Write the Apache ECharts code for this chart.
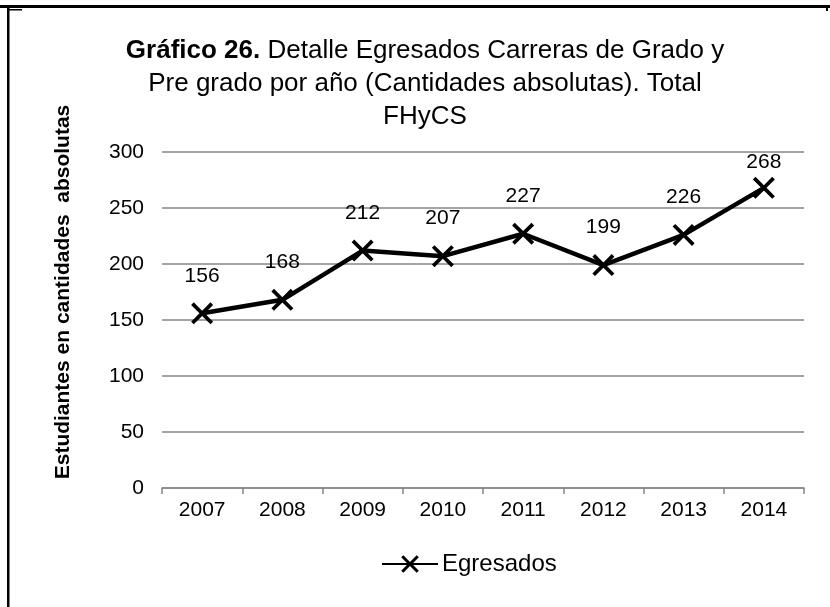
<!DOCTYPE html>
<html lang="es">
<head>
    <meta charset="UTF-8">
    <title>Gráfico 26</title>
    <style>
        body {
            margin: 0;
            background-color: #fff;
        }

        #chart {
            width: 830px;
            height: 607px;
        }
    </style>
</head>
<body>

    <div id="chart"></div>

    <script src="https://cdn.jsdelivr.net/npm/echarts@6/dist/echarts.min.js"></script>
    <script>

        // años
        const years = ['2007', '2008', '2009', '2010', '2011', '2012', '2013', '2014'];
        // egresados por año
        const egresados = [156, 168, 212, 207, 227, 199, 226, 268];
        // eje y
        const yTicks = [0, 50, 100, 150, 200, 250, 300];

        const font = 'Arial, "Liberation Sans", sans-serif';
        const crossSymbol = 'path://M0,1.2L1.2,0L5,3.8L8.8,0L10,1.2L6.2,5L10,8.8L8.8,10L5,6.2L1.2,10L0,8.8L3.8,5Z';
        const yMax = yTicks[yTicks.length - 1];

        // la etiqueta más alta queda dentro del área del gráfico (como en Excel)
        const seriesData = egresados.map(v => (yMax - v < 40 ? { value: v, label: { distance: 4 } } : v));

        const chart = echarts.init(document.getElementById('chart'));

        const option = {
            animation: false,
            title: {
                text: '{b|Gráfico 26.} Detalle Egresados Carreras de Grado y\nPre grado por año (Cantidades absolutas). Total\nFHyCS',
                left: 420,
                top: 29,
                textAlign: 'center',
                textStyle: {
                    fontFamily: font,
                    fontSize: 26,
                    fontWeight: 'normal',
                    color: '#000',
                    lineHeight: 33,
                    align: 'center',
                    rich: {
                        b: { fontFamily: font, fontSize: 26, fontWeight: 'bold', color: '#000', lineHeight: 33 }
                    }
                }
            },
            legend: {
                data: ['Egresados'],
                left: 376,
                top: 547,
                itemWidth: 56,
                itemHeight: 22,
                itemGap: 4,
                textStyle: { fontFamily: font, fontSize: 24, color: '#000', padding: [0, 0, 0, -1] }
            },
            grid: {
                left: 162,
                right: 26,
                top: 152,
                bottom: 119
            },
            xAxis: {
                type: 'category',
                data: years,
                axisLine: { lineStyle: { color: '#868686', width: 1.5 } },
                axisTick: { show: true, length: 6, lineStyle: { color: '#868686', width: 1.5 } },
                axisLabel: { fontFamily: font, fontSize: 21, color: '#000', margin: 12 }
            },
            yAxis: {
                type: 'value',
                min: yTicks[0],
                max: yMax,
                interval: 50,
                name: 'Estudiantes en cantidades  absolutas',
                nameLocation: 'middle',
                nameGap: 88,
                nameTextStyle: {
                    fontFamily: font,
                    fontSize: 21,
                    fontWeight: 'bold',
                    color: '#000',
                    padding: [0, 0, 0, 56]
                },
                axisLine: { show: false },
                axisTick: { show: false },
                axisLabel: { fontFamily: font, fontSize: 21, color: '#000', margin: 18 },
                splitLine: { lineStyle: { color: '#868686', width: 1.5 } }
            },
            series: [
                {
                    name: 'Egresados',
                    type: 'line',
                    data: seriesData,
                    symbol: crossSymbol,
                    symbolSize: 22,
                    itemStyle: { color: '#000' },
                    lineStyle: { color: '#000', width: 4.5 },
                    label: {
                        show: true,
                        position: 'top',
                        distance: 16,
                        fontFamily: font,
                        fontSize: 21,
                        color: '#000'
                    }
                }
            ],
            graphic: [
                { type: 'rect', shape: { x: 0, y: 5, width: 830, height: 3 }, style: { fill: '#000' } },
                { type: 'rect', shape: { x: 7, y: 8, width: 2.5, height: 599 }, style: { fill: '#000' } },
                { type: 'rect', shape: { x: 7, y: 9, width: 15, height: 1.5 }, style: { fill: '#000' } },
                { type: 'rect', shape: { x: 826, y: 8, width: 2, height: 3 }, style: { fill: '#000' } }
            ]
        };

        chart.setOption(option);

    </script>
</body>
</html>
